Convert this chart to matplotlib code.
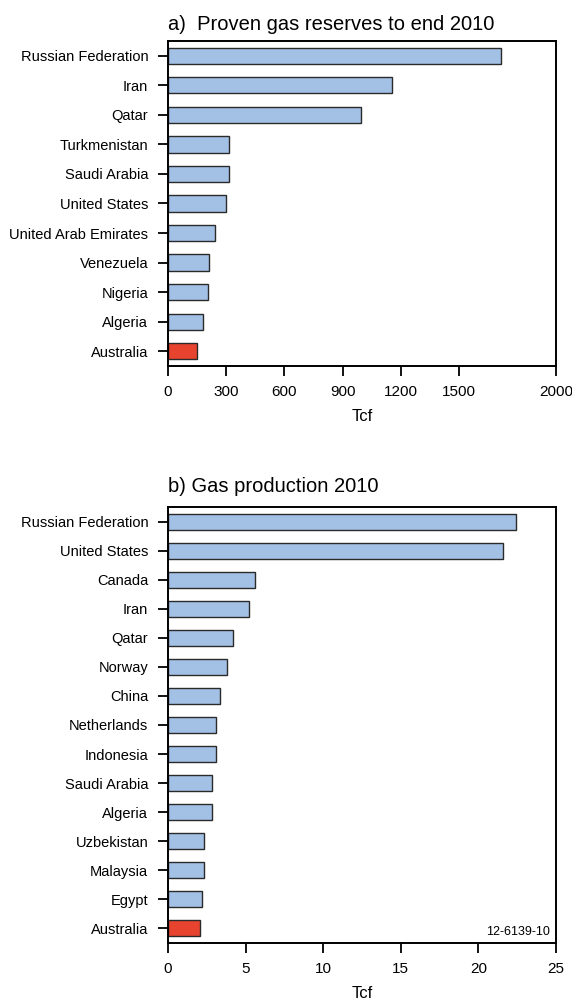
import matplotlib.pyplot as plt
from matplotlib import font_manager

# font: narrow sans if available
names = {f.name for f in font_manager.fontManager.ttflist}
fam = "Liberation Sans Narrow" if "Liberation Sans Narrow" in names else "Liberation Sans"
plt.rcParams["font.family"] = [fam, "DejaVu Sans"]

# a) Proven gas reserves to end 2010 (Tcf)
reserve_countries = ["Russian Federation", "Iran", "Qatar", "Turkmenistan", "Saudi Arabia",
                     "United States", "United Arab Emirates", "Venezuela", "Nigeria",
                     "Algeria", "Australia"]
reserve_values = [1715, 1155, 995, 312, 312, 300, 240, 210, 208, 180, 150]
reserve_ticks = [0, 300, 600, 900, 1200, 1500, 2000]

# b) Gas production 2010 (Tcf)
prod_countries = ["Russian Federation", "United States", "Canada", "Iran", "Qatar", "Norway",
                  "China", "Netherlands", "Indonesia", "Saudi Arabia", "Algeria",
                  "Uzbekistan", "Malaysia", "Egypt", "Australia"]
prod_values = [22.4, 21.6, 5.59, 5.19, 4.2, 3.8, 3.38, 3.12, 3.12, 2.84, 2.84, 2.3, 2.3, 2.16, 2.09]
prod_ticks = [0, 5, 10, 15, 20, 25]

blue = "#a3c1e5"
red = "#e8432e"

fig = plt.figure(figsize=(5.72, 10), dpi=100)
ax1 = fig.add_axes([0.2937, 0.634, 0.6783, 0.325])
ax2 = fig.add_axes([0.2937, 0.057, 0.6783, 0.436])


def draw(ax, countries, values, ticks, xmax, title, tpad):
    n = len(countries)
    ypos = list(range(n))
    colors = [red if c == "Australia" else blue for c in countries]
    ax.barh(ypos, values, height=0.55, color=colors, edgecolor="#2a2a2a", linewidth=1.0, left=0)
    ax.set_ylim(n - 0.5, -0.5)
    ax.set_xlim(0, xmax)
    ax.set_yticks(ypos)
    ax.set_yticklabels(countries, fontsize=10.5)
    ax.set_xticks(ticks)
    ax.set_xticklabels([str(t) for t in ticks], fontsize=11)
    ax.set_xlabel("Tcf", fontsize=12, labelpad=7)
    ax.set_title(title, fontsize=14.5, loc="left", pad=tpad)
    ax.tick_params(axis="x", direction="out", length=7.2, width=1.3, pad=6.5)
    ax.tick_params(axis="y", direction="out", length=7.2, width=1.3, pad=7)
    for s in ax.spines.values():
        s.set_linewidth(1.4)


draw(ax1, reserve_countries, reserve_values, reserve_ticks, 2000, "a)  Proven gas reserves to end 2010", 8)
draw(ax2, prod_countries, prod_values, prod_ticks, 25, "b) Gas production 2010", 11)
ax2.text(0.985, 0.012, "12-6139-10", transform=ax2.transAxes, ha="right", va="bottom", fontsize=9)

fig.savefig("out.png", dpi=100)
